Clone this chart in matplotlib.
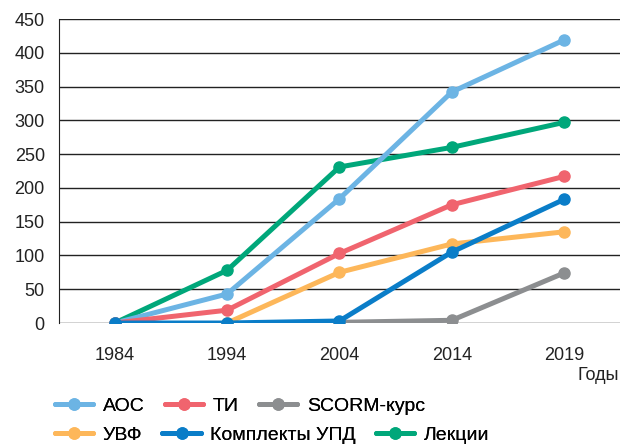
import matplotlib.pyplot as plt

plt.rcParams['font.family'] = ['Liberation Sans', 'DejaVu Sans']

years = ['1984', '1994', '2004', '2014', '2019']
aos = [0, 43, 184, 342, 419]
ti = [0, 19, 103, 175, 217]
scorm = [None, None, 1, 4, 74]
uvf = [None, 0, 75, 117, 135]
upd = [0, 0, 3, 105, 183]
lekcii = [0, 78, 231, 260, 297]

x = list(range(len(years)))

fig = plt.figure(figsize=(6.24, 4.47), dpi=100)
ax = fig.add_axes([0.094, 0.2774, 0.9, 0.68])

series = [
    ('Лекции', lekcii, '#00a77a'),
    ('АОС', aos, '#6cb4e4'),
    ('ТИ', ti, '#f0646e'),
    ('УВФ', uvf, '#fdb75a'),
    ('SCORM-курс', scorm, '#8c8e90'),
    ('Комплекты УПД', upd, '#0a7dc8'),
]
lines = {}
for name, vals, col in series:
    xs = [i for i, v in zip(x, vals) if v is not None]
    ys = [v for v in vals if v is not None]
    l, = ax.plot(xs, ys, color=col, lw=3.6, marker='o', ms=8, label=name,
                 solid_capstyle='round', zorder=3)
    lines[name] = l

ax.set_xlim(-0.5, 4.5)
ax.set_ylim(0, 450)
ax.set_yticks(range(0, 451, 50))
ax.set_xticks(x)
ax.set_xticklabels(years)
ax.grid(axis='y', color='#222222', lw=1)
ax.set_axisbelow(True)
for s in ['top', 'right', 'bottom']:
    ax.spines[s].set_visible(False)
ax.spines['left'].set_color('#222222')
ax.tick_params(length=0, labelsize=13, colors='#222222')
ax.tick_params(axis='x', pad=17)
ax.tick_params(axis='y', pad=10)

fig.text(0.992, 0.161, 'Годы', ha='right', va='center', fontsize=13, color='#222222')

# two separate legend rows, like in the original
rows = [['АОС', 'ТИ', 'SCORM-курс'], ['УВФ', 'Комплекты УПД', 'Лекции']]
ys_leg = [0.092, 0.027]
for names, yl in zip(rows, ys_leg):
    leg = fig.legend([lines[n] for n in names], names, ncol=3, loc='center left',
                     bbox_to_anchor=(0.088, yl), frameon=False, fontsize=14,
                     handlelength=1.96, columnspacing=1.03, handletextpad=0.51,
                     borderaxespad=0, borderpad=0)
    fig.add_artist(leg)

fig.savefig('out.png', dpi=100)
